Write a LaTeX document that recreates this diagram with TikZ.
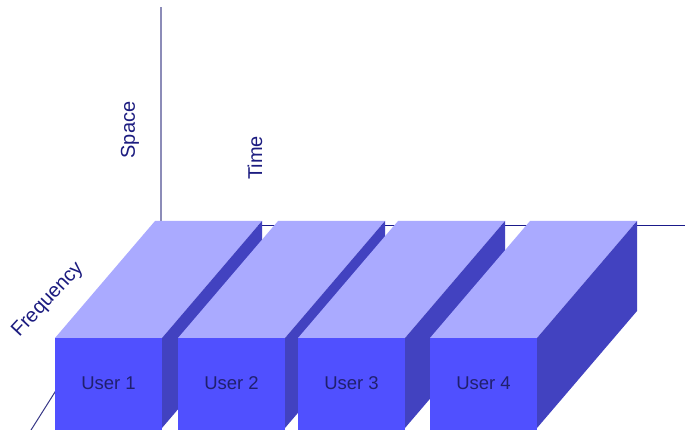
\documentclass[tikz,border=0pt]{standalone}
\usepackage{fontspec}
\setmainfont{Liberation Sans}
\definecolor{frontblue}{HTML}{5050FF}
\definecolor{topblue}{HTML}{AAAAFF}
\definecolor{sideblue}{HTML}{4242C0}
\definecolor{labelnavy}{HTML}{1C1C80}
\definecolor{usertext}{HTML}{20206E}
\definecolor{axisgray}{HTML}{8C8CB8}
\definecolor{axisnavy}{HTML}{1A1A8A}
\begin{document}
\begin{tikzpicture}[x=1pt,y=-1pt,
  axislabel/.style={text=labelnavy,font=\fontsize{20}{20}\selectfont,inner sep=0pt},
  userlabel/.style={text=usertext,font=\fontsize{18.5}{18.5}\selectfont,inner sep=0pt},
  frontface/.style={fill=frontblue},
  topface/.style={fill=topblue},
  sideface/.style={fill=sideblue}]
\useasboundingbox (0,0) rectangle (685,430);
\clip (0,0) rectangle (685,430);
\fill[white] (0,0) rectangle (685,430);

% axes meeting at the back corner
\coordinate (origin) at (161,224);
\coordinate (spaceend) at (161,7);
\coordinate (timeend) at (685,226);
\coordinate (freqend) at (26,438);
\draw[axisgray,line width=1.2pt] (origin) -- (spaceend);
\draw[axisnavy,line width=1pt] (161,226) -- (timeend);
\draw[axisnavy!70!gray,line width=1pt] (origin) -- (freqend);

% axis labels
\node[axislabel,rotate=90] (space) at (130,130) {Space};
\node[axislabel,rotate=90] (time) at (255,158) {Time};
\node[axislabel,rotate=47] (freq) at (48,300) {Frequency};

% one block per user, drawn left to right so each hides the previous side face
\foreach \x/\n in {55/1,178/2,298/3,430/4}{
  \fill[topface] (\x,338) -- (\x+100,221) -- (\x+207,221) -- (\x+107,338) -- cycle;
  \fill[sideface] (\x+107,338) -- (\x+207,221) -- (\x+207,311) -- (\x+107,428) -- cycle;
  \fill[frontface] (\x,338) rectangle (\x+107,430);
  \node[userlabel] (user\n) at (\x+53.5,383) {User \n};
}
\end{tikzpicture}
\end{document}
